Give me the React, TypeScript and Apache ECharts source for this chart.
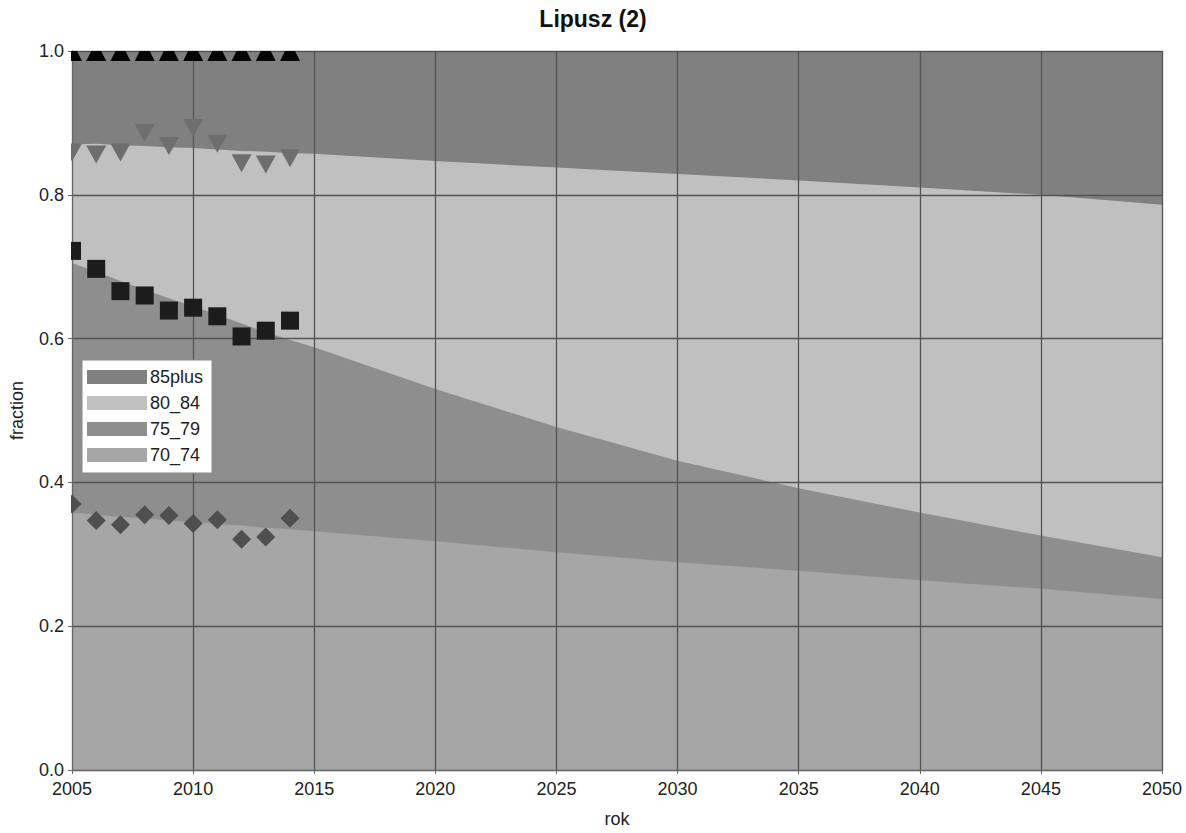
import React, { useEffect, useRef } from "react";
import * as echarts from "echarts";

// Projection years (area boundaries)
const years = [2005, 2006, 2007, 2008, 2009, 2010, 2011, 2012, 2013, 2014, 2015, 2020, 2025, 2030, 2035, 2040, 2045, 2050];
// Fractions of each age group (share of total)
const share70_74 = [0.358, 0.355, 0.352, 0.35, 0.347, 0.345, 0.342, 0.34, 0.337, 0.335, 0.332, 0.318, 0.303, 0.289, 0.277, 0.264, 0.252, 0.238];
const share75_79 = [0.347, 0.338, 0.328, 0.318, 0.309, 0.3, 0.291, 0.281, 0.272, 0.263, 0.256, 0.212, 0.174, 0.141, 0.115, 0.094, 0.074, 0.058];
const share80_84 = [0.165, 0.178, 0.189, 0.2, 0.21, 0.22, 0.23, 0.24, 0.251, 0.26, 0.269, 0.317, 0.361, 0.399, 0.428, 0.452, 0.474, 0.49];
const share85plus = [0.13, 0.129, 0.131, 0.132, 0.134, 0.135, 0.137, 0.139, 0.14, 0.142, 0.143, 0.153, 0.162, 0.171, 0.18, 0.19, 0.2, 0.214];

// Observed cumulative fractions
const obsYears = [2005, 2006, 2007, 2008, 2009, 2010, 2011, 2012, 2013, 2014];
const obsCum85plus = [1.0, 1.0, 1.0, 1.0, 1.0, 1.0, 1.0, 1.0, 1.0, 1.0];
const obsCum80_84 = [0.859, 0.856, 0.859, 0.886, 0.868, 0.893, 0.871, 0.844, 0.842, 0.851];
const obsCum75_79 = [0.722, 0.697, 0.666, 0.66, 0.639, 0.643, 0.631, 0.603, 0.611, 0.625];
const obsCum70_74 = [0.37, 0.347, 0.341, 0.355, 0.354, 0.343, 0.348, 0.321, 0.324, 0.35];

const groupNames = ["85plus", "80_84", "75_79", "70_74"];
const groupColors = ["#808080", "#c0c0c0", "#8e8e8e", "#a6a6a6"];

const xTicks = { min: 2005, max: 2050, interval: 5 };
const yTicks = { min: 0, max: 1, interval: 0.2 };

const FONT = "'Liberation Sans', Arial, sans-serif";

export default function App() {
  const ref = useRef<HTMLDivElement>(null);

  useEffect(() => {
    if (!ref.current) return;
    const chart = echarts.init(ref.current, null, { renderer: "svg" });

    // cumulative boundaries (bottom-up)
    const c1 = share70_74.map((v) => v);
    const c2 = c1.map((v, i) => v + share75_79[i]);
    const c3 = c2.map((v, i) => v + share80_84[i]);
    const c4 = c3.map((v, i) => v + share85plus[i]);
    const cums = [c4, c3, c2, c1];

    const areaSeries = groupNames.map((name, k) => ({
      name,
      type: "line",
      data: years.map((yr, i) => [yr, Math.min(1, +cums[k][i].toFixed(4))]),
      showSymbol: false,
      symbol: "none",
      lineStyle: { width: 0 },
      itemStyle: { color: groupColors[k] },
      areaStyle: { color: groupColors[k], opacity: 1 },
      z: 1,
      silent: true,
    }));

    const marker = (kind: string, color: string) => (params: any, api: any) => {
      const p = api.coord([api.value(0), api.value(1)]);
      const x = p[0];
      const y = p[1];
      if (kind === "square") {
        return { type: "rect", shape: { x: x - 9, y: y - 9, width: 18, height: 18 }, style: { fill: color } };
      }
      let points: number[][] = [];
      if (kind === "up") points = [[x, y - 10], [x + 10, y + 10], [x - 10, y + 10]];
      if (kind === "down") points = [[x - 10, y - 9], [x + 10, y - 9], [x, y + 9]];
      if (kind === "diamond") points = [[x, y - 9.5], [x + 9.5, y], [x, y + 9.5], [x - 9.5, y]];
      return { type: "polygon", shape: { points }, style: { fill: color } };
    };

    const obsSets = [
      { name: "obs85plus", vals: obsCum85plus, kind: "up", color: "#050505" },
      { name: "obs80_84", vals: obsCum80_84, kind: "down", color: "#6e6e6e" },
      { name: "obs75_79", vals: obsCum75_79, kind: "square", color: "#1c1c1c" },
      { name: "obs70_74", vals: obsCum70_74, kind: "diamond", color: "#4f4f4f" },
    ];

    const markerSeries = obsSets.map((s) => ({
      name: s.name,
      type: "custom",
      clip: true,
      z: 6,
      silent: true,
      data: obsYears.map((yr, i) => [yr, s.vals[i]]),
      encode: { x: 0, y: 1 },
      renderItem: marker(s.kind, s.color),
    }));

    chart.setOption({
      animation: false,
      backgroundColor: "#ffffff",
      textStyle: { fontFamily: FONT },
      title: {
        text: "Lipusz (2)",
        left: "center",
        top: 2,
        textStyle: { fontSize: 23, fontWeight: "bold", color: "#111", fontFamily: FONT },
      },
      legend: {
        data: groupNames,
        orient: "vertical",
        left: 82,
        top: 360,
        icon: "rect",
        itemWidth: 60,
        itemHeight: 14,
        itemGap: 8,
        padding: [8, 9, 9, 5],
        backgroundColor: "#ffffff",
        borderColor: "#8a8a8a",
        borderWidth: 1,
        z: 8,
        textStyle: { fontSize: 18, lineHeight: 18, color: "#222", fontFamily: FONT, padding: [0, 0, 0, -2] },
      },
      grid: { left: 68, right: 24, top: 51, bottom: 56, containLabel: false },
      xAxis: {
        type: "value",
        min: xTicks.min,
        max: xTicks.max,
        interval: xTicks.interval,
        z: 4,
        name: "rok",
        nameLocation: "middle",
        nameGap: 40,
        nameTextStyle: { fontSize: 18, color: "#222", fontFamily: FONT },
        axisLine: { show: true, lineStyle: { color: "#666", width: 1 } },
        axisTick: { show: true, length: 4, lineStyle: { color: "#666" } },
        axisLabel: { fontSize: 18, color: "#222", margin: 10, fontFamily: FONT, formatter: (v: number) => String(v) },
        splitLine: { show: true, lineStyle: { color: "#545454", width: 1.3 } },
      },
      yAxis: {
        type: "value",
        min: yTicks.min,
        max: yTicks.max,
        interval: yTicks.interval,
        z: 4,
        name: "fraction",
        nameLocation: "middle",
        nameGap: 46,
        nameRotate: 90,
        nameTextStyle: { fontSize: 18, color: "#222", fontFamily: FONT },
        axisLine: { show: true, lineStyle: { color: "#666", width: 1 } },
        axisTick: { show: true, length: 4, lineStyle: { color: "#666" } },
        axisLabel: { fontSize: 18, color: "#222", margin: 8, fontFamily: FONT, formatter: (v: number) => v.toFixed(1) },
        splitLine: { show: true, lineStyle: { color: "#545454", width: 1.3 } },
      },
      series: [...areaSeries, ...markerSeries],
    });

    return () => chart.dispose();
  }, []);

  return (
    <div
      ref={ref}
      style={{ position: "fixed", left: 0, top: 0, width: 1186, height: 833, background: "#fff" }}
    />
  );
}
